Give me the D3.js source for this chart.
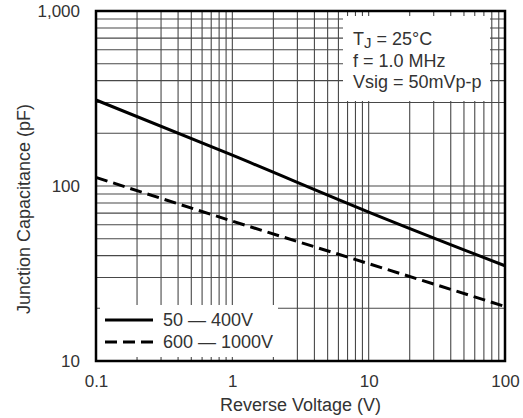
<!DOCTYPE html>
<html>
<head>
<meta charset="utf-8">
<script src="https://cdn.jsdelivr.net/npm/d3@7"></script>
<style>
  body { margin: 0; background: #fff; }
  text { font-family: "Liberation Sans", Arial, sans-serif; fill: #333; }
</style>
</head>
<body>
<script>
// values (pF vs V, log-log)
var voltage = [0.1, 1, 10, 100];
var capLow = [310, 150, 71, 35];      // 50 - 400V
var capHigh = [112, 63, 36, 20.5];    // 600 - 1000V
var xTicks = [0.1, 1, 10, 100];
var yTicks = [10, 100, 1000];
var legendLabels = ["50 \u2014 400V", "600 \u2014 1000V"];
var notes = ["T", "f = 1.0 MHz", "Vsig = 50mVp-p"];

var margin = {top: 11, right: 18, bottom: 57, left: 96},
    width = 523 - margin.left - margin.right,
    height = 418 - margin.top - margin.bottom;

var svg = d3.select("body").append("svg")
    .attr("width", 523)
    .attr("height", 418)
  .append("g")
    .attr("transform", "translate(" + margin.left + "," + margin.top + ")");

var x = d3.scaleLog().domain([0.1, 100]).range([0, width]);
var y = d3.scaleLog().domain([10, 1000]).range([height, 0]);

// full grid, every 1..9 of each decade
var xGrid = [], yGrid = [];
[0.1, 1, 10].forEach(function(d) { for (var k = 1; k <= 9; k++) xGrid.push(d * k); });
[10, 100].forEach(function(d) { for (var k = 1; k <= 9; k++) yGrid.push(d * k); });

svg.selectAll(".vgrid")
    .data(xGrid)
  .enter().append("line")
    .attr("class", "vgrid")
    .attr("x1", function(d) { return x(d); })
    .attr("x2", function(d) { return x(d); })
    .attr("y1", 0)
    .attr("y2", height)
    .attr("stroke", "#484848")
    .attr("stroke-width", 1.1);

svg.selectAll(".hgrid")
    .data(yGrid)
  .enter().append("line")
    .attr("class", "hgrid")
    .attr("x1", 0)
    .attr("x2", width)
    .attr("y1", function(d) { return y(d); })
    .attr("y2", function(d) { return y(d); })
    .attr("stroke", "#484848")
    .attr("stroke-width", 1.1);

// white boxes for the notes and the legend
svg.append("rect")
    .attr("x", 247).attr("y", 5)
    .attr("width", 147).attr("height", 85)
    .attr("fill", "#fff");

svg.append("rect")
    .attr("x", 4).attr("y", 294)
    .attr("width", 178).attr("height", 52)
    .attr("fill", "#fff");

var line = d3.line()
    .x(function(d) { return x(d[0]); })
    .y(function(d) { return y(d[1]); })
    .curve(d3.curveMonotoneX);

svg.append("path")
    .datum(d3.zip(voltage, capLow))
    .attr("d", line)
    .attr("fill", "none")
    .attr("stroke", "#000")
    .attr("stroke-width", 3);

svg.append("path")
    .datum(d3.zip(voltage, capHigh))
    .attr("d", line)
    .attr("fill", "none")
    .attr("stroke", "#000")
    .attr("stroke-width", 3)
    .attr("stroke-dasharray", "12,6");

// frame
svg.append("rect")
    .attr("width", width)
    .attr("height", height)
    .attr("fill", "none")
    .attr("stroke", "#000")
    .attr("stroke-width", 2.5);

// axes (labels only)
var xAxis = d3.axisBottom(x).tickValues(xTicks).tickSize(0).tickPadding(14)
    .tickFormat(d3.format(""));
var yAxis = d3.axisLeft(y).tickValues(yTicks).tickSize(0).tickPadding(16)
    .tickFormat(d3.format(","));

svg.append("g")
    .attr("transform", "translate(0," + height + ")")
    .call(xAxis)
    .call(function(g) { g.select(".domain").remove(); })
    .selectAll("text")
      .style("font-size", "17px")
      .style("font-family", "Liberation Sans, Arial, sans-serif")
      .attr("fill", "#333");

svg.append("g")
    .call(yAxis)
    .call(function(g) { g.select(".domain").remove(); })
    .selectAll("text")
      .style("font-size", "17px")
      .style("font-family", "Liberation Sans, Arial, sans-serif")
      .attr("fill", "#333");

svg.append("text")
    .attr("x", width / 2)
    .attr("y", height + 50)
    .attr("text-anchor", "middle")
    .style("font-size", "18px")
    .text("Reverse Voltage (V)");

svg.append("text")
    .attr("transform", "translate(-66," + 198 + ") rotate(-90)")
    .attr("text-anchor", "middle")
    .style("font-size", "18px")
    .text("Junction Capacitance (pF)");

// notes
var tj = svg.append("text")
    .attr("x", 257).attr("y", 34)
    .style("font-size", "18px");
tj.append("tspan").text(notes[0]);
tj.append("tspan").attr("dy", 3).style("font-size", "15px").text("J");
tj.append("tspan").attr("dy", -3).text(" = 25\u00b0C");

svg.selectAll(".note")
    .data(notes.slice(1))
  .enter().append("text")
    .attr("class", "note")
    .attr("x", 257)
    .attr("y", function(d, i) { return 56 + i * 21; })
    .style("font-size", "18px")
    .text(function(d) { return d; });

// legend
var leg = svg.selectAll(".leg")
    .data(legendLabels)
  .enter().append("g")
    .attr("class", "leg")
    .attr("transform", function(d, i) { return "translate(9," + (309 + i * 22) + ")"; });

leg.append("line")
    .attr("x1", 0).attr("x2", 48)
    .attr("stroke", "#000")
    .attr("stroke-width", 3)
    .attr("stroke-dasharray", function(d, i) { return i ? "12,6" : null; });

leg.append("text")
    .attr("x", 58)
    .attr("dy", "0.35em")
    .style("font-size", "18px")
    .text(function(d) { return d; });
</script>
</body>
</html>
